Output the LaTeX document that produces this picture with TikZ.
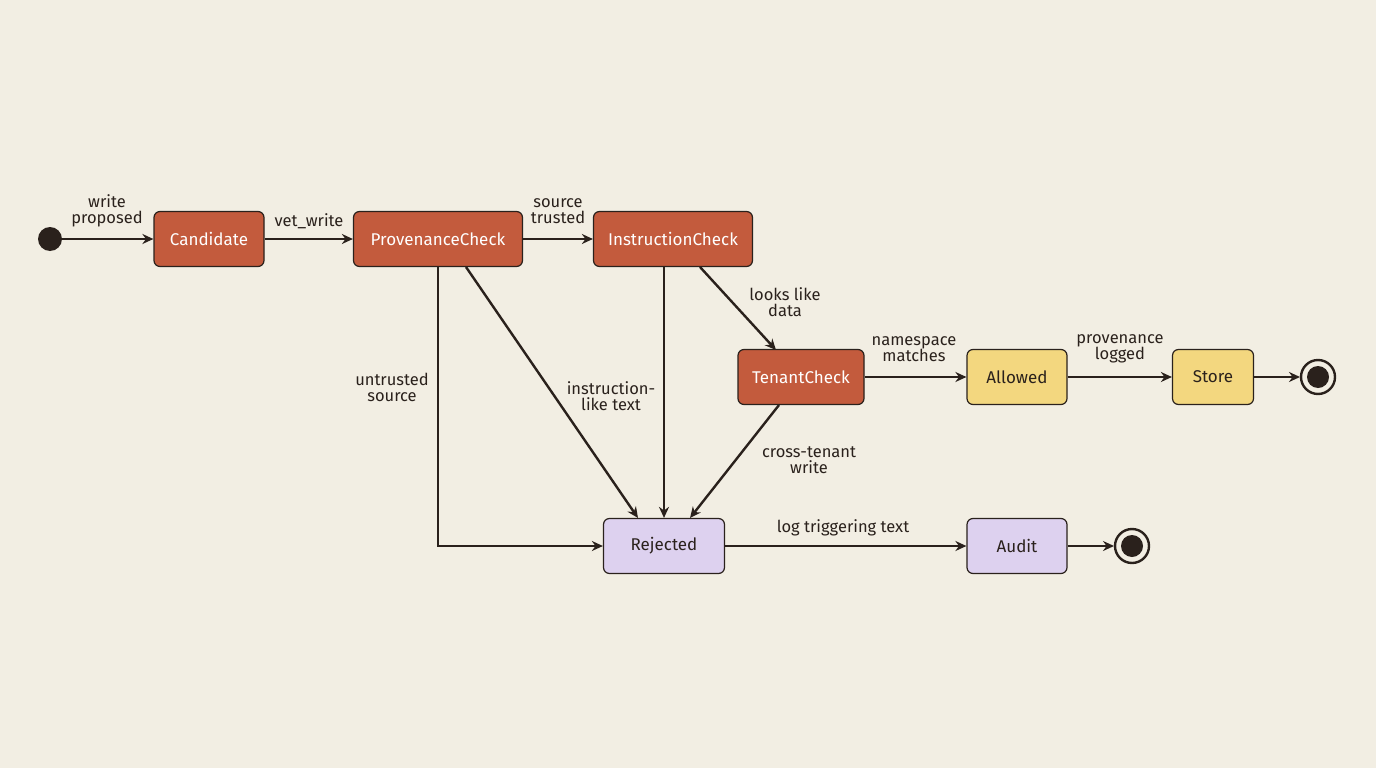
\documentclass[tikz,border=0pt]{standalone}
\usepackage{fontspec}
\setmainfont{Fira Sans}
\usetikzlibrary{arrows.meta}
\definecolor{bg}{HTML}{F2EEE3}
\definecolor{rust}{HTML}{C35B3D}
\definecolor{sand}{HTML}{F3D77F}
\definecolor{lilac}{HTML}{DDD1EF}
\definecolor{ink}{HTML}{2A211C}
\tikzset{st/.style={draw=ink,line width=1.2pt,rounded corners=6pt,minimum height=55pt,inner sep=0pt,font=\fontsize{17}{19}\selectfont}}
\tikzset{rs/.style={st,fill=rust,text=white}}
\tikzset{ys/.style={st,fill=sand,text=ink}}
\tikzset{vs/.style={st,fill=lilac,text=ink}}
\tikzset{l/.style={font=\fontsize{16.5}{19}\selectfont,text=ink,align=center}}
\tikzset{e/.style={draw=ink,line width=2.4pt,-{Stealth[length=11pt,width=10pt]}}}
\begin{document}
\begin{tikzpicture}[x=1pt,y=1pt,yscale=-1]
  \fill[bg] (0,0) rectangle (1376,768);
  % states
  \fill[ink] (50,239) circle[radius=12pt] coordinate (s);
  \node[rs,minimum width=110pt] (C) at (209,239) {Candidate};
  \node[rs,minimum width=169pt] (P) at (438,239) {ProvenanceCheck};
  \node[rs,minimum width=159pt] (I) at (673,239) {InstructionCheck};
  \node[rs,minimum width=126pt] (T) at (801,377) {TenantCheck};
  \node[ys,minimum width=100pt] (A) at (1017,377) {Allowed};
  \node[ys,minimum width=81pt] (S) at (1213,377) {Store};
  \node[vs,minimum width=121pt] (R) at (664,546) {Rejected};
  \node[vs,minimum width=100pt] (U) at (1017,546) {Audit};
  % final states
  \draw[ink,line width=2.4pt,fill=bg] (1318,377) circle[radius=17pt];
  \fill[ink] (1318,377) circle[radius=11pt] coordinate (f1);
  \draw[ink,line width=2.4pt,fill=bg] (1132,546) circle[radius=17pt];
  \fill[ink] (1132,546) circle[radius=11pt] coordinate (f2);
  % transitions
  \draw[e] (62,239) -- (C);
  \node[l] (l1) at (107,211) {write\\[-3pt]proposed};
  \draw[e] (C) -- (P);
  \node[l] (l2) at (309,221) {vet\_write};
  \draw[e] (P) -- (I);
  \node[l] (l3) at (558,211) {source\\[-3pt]trusted};
  \draw[e] (438,267) |- (R.west);
  \node[l] (l4) at (392,387) {untrusted\\[-3pt]source};
  \draw[e] (466,267) -- (638,518);
  \node[l] (l5) at (611,396) {instruction-\\[-3pt]like text};
  \draw[e] (664,267) -- (R.north);
  \draw[e] (700,267) -- (776,350);
  \node[l] (l6) at (785,302) {looks like\\[-3pt]data};
  \draw[e] (779,405) -- (690,518);
  \node[l] (l7) at (809,460) {cross-tenant\\[-3pt]write};
  \draw[e] (T) -- (A);
  \node[l] (l8) at (914,349) {namespace\\[-3pt]matches};
  \draw[e] (A) -- (S);
  \node[l] (l9) at (1120,349) {provenance\\[-3pt]logged};
  \draw[e] (S) -- (1300,377);
  \draw[e] (R) -- (U);
  \node[l] (l10) at (843,528) {log triggering text};
  \draw[e] (U) -- (1114,546);
\end{tikzpicture}
\end{document}
